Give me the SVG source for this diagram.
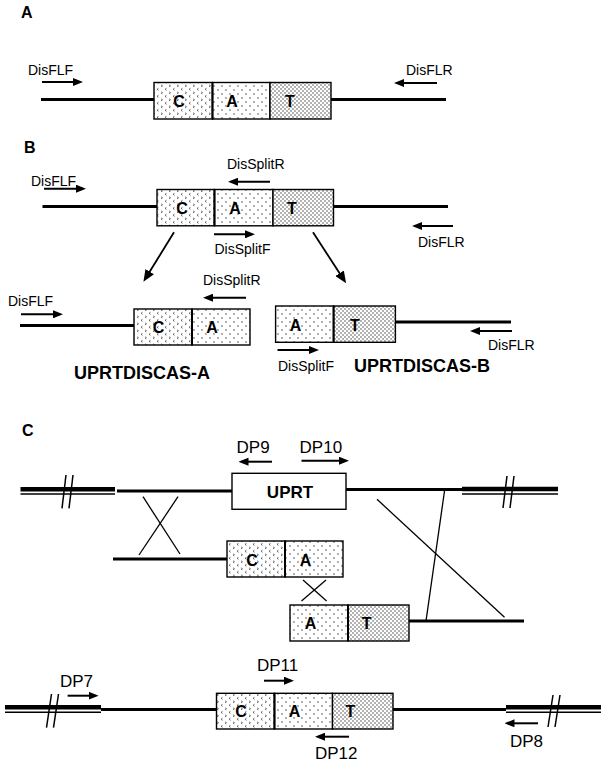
<svg xmlns="http://www.w3.org/2000/svg" width="603" height="765" viewBox="0 0 603 765">
<defs>
  <pattern id="patC" patternUnits="userSpaceOnUse" width="8" height="7">
    <rect width="8" height="7" fill="#fff"/>
    <path d="M1,0.8 L2.5,1.8 L1,2.8 M6.5,4.3 L5,5.3 L6.5,6.3" fill="none" stroke="#333" stroke-width="0.7"/>
  </pattern>
  <pattern id="patA" patternUnits="userSpaceOnUse" width="8" height="8">
    <rect width="8" height="8" fill="#fff"/>
    <circle cx="2" cy="2" r="0.65" fill="#222"/>
    <circle cx="6" cy="6" r="0.65" fill="#222"/>
  </pattern>
  <pattern id="patT" patternUnits="userSpaceOnUse" width="4" height="4">
    <rect width="4" height="4" fill="#fff"/>
    <circle cx="1" cy="1" r="0.65" fill="#222"/>
    <circle cx="3" cy="3" r="0.65" fill="#222"/>
  </pattern>
  <marker id="ah" viewBox="0 0 10 8" markerWidth="10" markerHeight="8" refX="7" refY="4" orient="auto" markerUnits="userSpaceOnUse">
    <path d="M0,0 L10,4 L0,8 z" fill="#000"/>
  </marker>
  <marker id="ahd" viewBox="0 0 12 10" markerWidth="12" markerHeight="10" refX="9" refY="5" orient="auto" markerUnits="userSpaceOnUse">
    <path d="M0,0 L12,5 L0,10 z" fill="#000"/>
  </marker>
</defs>
<style>
  text { font-family: "Liberation Sans", Arial, sans-serif; fill: #000; }
  .lab { font-size: 14px; }
  .dp { font-size: 17px; }
  .panel { font-size: 16px; font-weight: bold; }
  .big { font-size: 18px; font-weight: bold; }
  .let { font-size: 16px; font-weight: bold; text-anchor: middle; }
  .dna { stroke: #000; stroke-width: 3.2; fill: none; }
  .thk { stroke: #000; stroke-width: 4.5; fill: none; }
  .thn { stroke: #000; stroke-width: 1.5; fill: none; }
  .box { stroke: #000; stroke-width: 1.4; }
  .div { stroke: #000; stroke-width: 2; }
  .slash { stroke: #000; stroke-width: 1.5; fill: none; }
  .pr { stroke: #000; stroke-width: 2; fill: none; marker-end: url(#ah); }
  .cx { stroke: #000; stroke-width: 1.3; fill: none; }
  .dg { stroke: #000; stroke-width: 1.8; fill: none; marker-end: url(#ahd); }
</style>
<rect width="603" height="765" fill="#fff"/>

<!-- Panel labels -->
<g id="panel-labels">
  <text class="panel" x="21" y="18">A</text>
  <text class="panel" x="24" y="153">B</text>
  <text class="panel" x="22" y="436">C</text>
</g>

<!-- Panel A construct -->
<g id="constructA">
  <line class="dna" x1="41" y1="99.5" x2="154" y2="99.5"/>
  <line class="dna" x1="331" y1="99.5" x2="446" y2="99.5"/>
  <rect class="box" x="154" y="82.5" width="58.5" height="36.5" fill="url(#patC)"/>
  <rect class="box" x="212.5" y="82.5" width="57.5" height="36.5" fill="url(#patA)"/>
  <rect class="box" x="270" y="82.5" width="61" height="36.5" fill="url(#patT)"/>
  <line class="div" x1="212.5" y1="82.5" x2="212.5" y2="119"/>
  <text class="let" x="179" y="107">C</text>
  <text class="let" x="232" y="107">A</text>
  <text class="let" x="290" y="107">T</text>
</g>

<!-- Panel B full construct -->
<g id="constructB">
  <line class="dna" x1="42.5" y1="206.5" x2="157" y2="206.5"/>
  <line class="dna" x1="333.5" y1="206.5" x2="448" y2="206.5"/>
  <rect class="box" x="157" y="189.5" width="57.5" height="36.3" fill="url(#patC)"/>
  <rect class="box" x="214.5" y="189.5" width="58.5" height="36.3" fill="url(#patA)"/>
  <rect class="box" x="273" y="189.5" width="60.5" height="36.3" fill="url(#patT)"/>
  <line class="div" x1="214.5" y1="189.5" x2="214.5" y2="225.8"/>
  <text class="let" x="182" y="213.5">C</text>
  <text class="let" x="235" y="213.5">A</text>
  <text class="let" x="292" y="213.5">T</text>
</g>

<!-- UPRTDISCAS-A -->
<g id="uprtdiscas-a">
  <line class="dna" x1="20" y1="325.5" x2="134" y2="325.5"/>
  <rect class="box" x="134" y="309" width="58" height="36" fill="url(#patC)"/>
  <rect class="box" x="192" y="309" width="58" height="36" fill="url(#patA)"/>
  <line class="div" x1="192" y1="309" x2="192" y2="345"/>
  <text class="let" x="158.5" y="333">C</text>
  <text class="let" x="212" y="333">A</text>
  <text class="big" x="74" y="379.3">UPRTDISCAS-A</text>
</g>

<!-- UPRTDISCAS-B -->
<g id="uprtdiscas-b">
  <rect class="box" x="275.6" y="306" width="58" height="36.3" fill="url(#patA)"/>
  <rect class="box" x="333.6" y="306" width="61.8" height="36.3" fill="url(#patT)"/>
  <line class="div" x1="333.6" y1="306" x2="333.6" y2="342.3"/>
  <line class="dna" x1="395.4" y1="322" x2="511" y2="322"/>
  <text class="let" x="295.6" y="330.5">A</text>
  <text class="let" x="355" y="330.5">T</text>
  <text class="big" x="354" y="371.7">UPRTDISCAS-B</text>
</g>

<!-- Panel C: genomic UPRT locus -->
<g id="genome-uprt">
  <line class="thk" x1="20.5" y1="489.3" x2="115" y2="489.3"/>
  <line class="thn" x1="20.5" y1="494" x2="115" y2="494"/>
  <line class="slash" x1="62" y1="508.3" x2="66" y2="475"/>
  <line class="slash" x1="69" y1="508.3" x2="73" y2="475"/>
  <line class="dna" x1="117" y1="491" x2="232" y2="491"/>
  <rect class="box" x="232" y="473.3" width="114" height="36" fill="#fff"/>
  <text x="290" y="497.5" style="font-size:17px;font-weight:bold;text-anchor:middle">UPRT</text>
  <line class="dna" x1="346" y1="489.5" x2="462" y2="489.5"/>
  <line class="thk" x1="462" y1="489" x2="558" y2="489"/>
  <line class="thn" x1="462" y1="494" x2="558" y2="494"/>
  <line class="slash" x1="503" y1="508" x2="507" y2="476"/>
  <line class="slash" x1="510" y1="508" x2="514" y2="476"/>
</g>

<!-- Panel C: fragment A -->
<g id="fragment-a">
  <line class="dna" x1="113" y1="559" x2="227" y2="559"/>
  <rect class="box" x="227" y="541" width="58" height="36" fill="url(#patC)"/>
  <rect class="box" x="285" y="541" width="58" height="36" fill="url(#patA)"/>
  <line class="div" x1="285" y1="541" x2="285" y2="577"/>
  <text class="let" x="252" y="565.5">C</text>
  <text class="let" x="305.5" y="565.5">A</text>
</g>

<!-- Panel C: fragment B -->
<g id="fragment-b">
  <rect class="box" x="290" y="605" width="58" height="36" fill="url(#patA)"/>
  <rect class="box" x="348" y="605" width="61" height="36" fill="url(#patT)"/>
  <line class="div" x1="348" y1="605" x2="348" y2="641"/>
  <line class="dna" x1="409" y1="621" x2="524" y2="621"/>
  <text class="let" x="310.6" y="628.5">A</text>
  <text class="let" x="366.7" y="628.5">T</text>
</g>

<!-- Panel C: recombined locus -->
<g id="recombined-locus">
  <line class="thk" x1="5" y1="707.3" x2="101" y2="707.3"/>
  <line class="thn" x1="5" y1="712.3" x2="101" y2="712.3"/>
  <line class="slash" x1="46.5" y1="727.7" x2="51.5" y2="694"/>
  <line class="slash" x1="53.5" y1="727.7" x2="58.5" y2="694"/>
  <line class="dna" x1="101" y1="709.5" x2="216.5" y2="709.5"/>
  <rect class="box" x="216.5" y="693.3" width="58" height="35.7" fill="url(#patC)"/>
  <rect class="box" x="274.5" y="693.3" width="58" height="35.7" fill="url(#patA)"/>
  <rect class="box" x="332.5" y="693.3" width="60.5" height="35.7" fill="url(#patT)"/>
  <line class="div" x1="274.5" y1="693.3" x2="274.5" y2="729"/>
  <text class="let" x="241" y="717">C</text>
  <text class="let" x="294.6" y="717">A</text>
  <text class="let" x="350.5" y="717">T</text>
  <line class="dna" x1="393" y1="709.5" x2="506" y2="709.5"/>
  <line class="thk" x1="506" y1="707.3" x2="601" y2="707.3"/>
  <line class="thn" x1="506" y1="712.3" x2="601" y2="712.3"/>
  <line class="slash" x1="548" y1="727" x2="553" y2="695"/>
  <line class="slash" x1="555" y1="727" x2="560" y2="695"/>
</g>

<!-- Primers -->
<g id="primers">
  <line class="pr" x1="42" y1="82" x2="80" y2="82"/>
  <text class="lab" x="28" y="75">DisFLF</text>
  <line class="pr" x1="437" y1="83" x2="397" y2="83"/>
  <text class="lab" x="406" y="75">DisFLR</text>

  <line class="pr" x1="44" y1="188.7" x2="83" y2="188.7"/>
  <text class="lab" x="31" y="186">DisFLF</text>
  <line class="pr" x1="270" y1="181.7" x2="231" y2="181.7"/>
  <text class="lab" x="227" y="169">DisSplitR</text>
  <line class="pr" x1="214" y1="234.3" x2="252" y2="234.3"/>
  <text class="lab" x="214.5" y="254">DisSplitF</text>
  <line class="pr" x1="453" y1="226" x2="415" y2="226"/>
  <text class="lab" x="418" y="246.7">DisFLR</text>

  <line class="pr" x1="21" y1="314.3" x2="60" y2="314.3"/>
  <text class="lab" x="8" y="305.7">DisFLF</text>
  <line class="pr" x1="246" y1="297.7" x2="206" y2="297.7"/>
  <text class="lab" x="203" y="285.3">DisSplitR</text>

  <line class="pr" x1="277.5" y1="350" x2="316" y2="350"/>
  <text class="lab" x="278" y="371">DisSplitF</text>
  <line class="pr" x1="512" y1="331" x2="473" y2="331"/>
  <text class="lab" x="488" y="350">DisFLR</text>

  <line class="pr" x1="272" y1="461.7" x2="241.5" y2="461.7"/>
  <text class="dp" x="236.6" y="453.3">DP9</text>
  <line class="pr" x1="301.5" y1="460.7" x2="346" y2="460.7"/>
  <text class="dp" x="299.6" y="453.3">DP10</text>

  <line class="pr" x1="67.6" y1="695.7" x2="95.6" y2="695.7"/>
  <text class="dp" x="60" y="687">DP7</text>
  <line class="pr" x1="264" y1="680.7" x2="291" y2="680.7"/>
  <text class="dp" x="257" y="670.7">DP11</text>
  <line class="pr" x1="349" y1="736.7" x2="318" y2="736.7"/>
  <text class="dp" x="315" y="759">DP12</text>
  <line class="pr" x1="538" y1="723.3" x2="507.5" y2="723.3"/>
  <text class="dp" x="510" y="746.7">DP8</text>
</g>

<!-- Connectors -->
<g id="connectors">
  <line class="dg" x1="174" y1="232.3" x2="145" y2="279.3"/>
  <line class="dg" x1="313" y1="232.3" x2="344.5" y2="280.8"/>
  <line class="cx" x1="143" y1="496.7" x2="180" y2="554"/>
  <line class="cx" x1="178" y1="496.7" x2="139" y2="555"/>
  <line class="cx" x1="303" y1="580" x2="326.6" y2="601"/>
  <line class="cx" x1="326" y1="580" x2="301.5" y2="601"/>
  <line class="cx" x1="377" y1="499.3" x2="504.5" y2="617.3"/>
  <line class="cx" x1="444.5" y1="491" x2="426" y2="621"/>
</g>
</svg>
